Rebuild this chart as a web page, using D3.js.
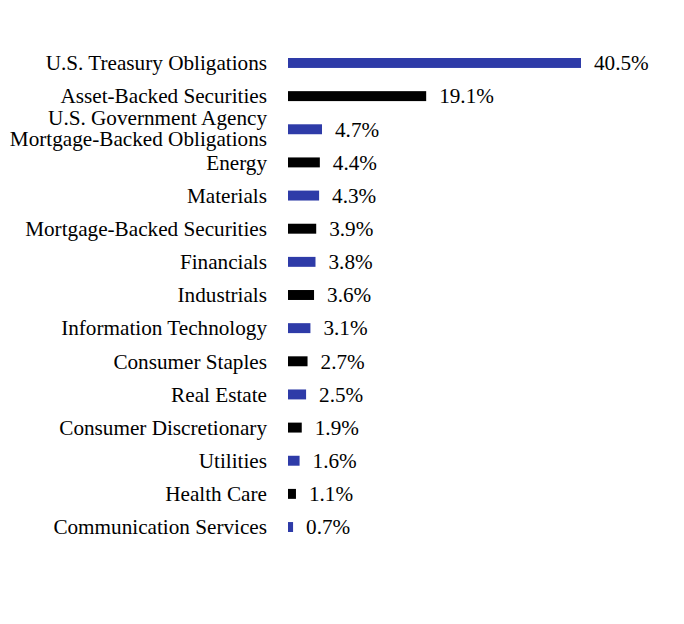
<!DOCTYPE html>
<html>
<head>
<meta charset="utf-8">
<script src="https://cdn.jsdelivr.net/npm/d3@7"></script>
<style>
  body { margin: 0; background: #fff; }
  text { font-family: "Liberation Serif", "Times New Roman", serif; }
</style>
</head>
<body>
<svg id="chart"></svg>
<script>
const categories = [
  "U.S. Treasury Obligations",
  "Asset-Backed Securities",
  "U.S. Government Agency\nMortgage-Backed Obligations",
  "Energy",
  "Materials",
  "Mortgage-Backed Securities",
  "Financials",
  "Industrials",
  "Information Technology",
  "Consumer Staples",
  "Real Estate",
  "Consumer Discretionary",
  "Utilities",
  "Health Care",
  "Communication Services"
]
const values = [40.5, 19.1, 4.7, 4.4, 4.3, 3.9, 3.8, 3.6, 3.1, 2.7, 2.5, 1.9, 1.6, 1.1, 0.7]
const colors = ["#2e3ba8", "#000000"]

const width = 684
const height = 624
const x0 = 288
const fontSize = 21.2

const svg = d3.select("#chart")
  .attr("width", width)
  .attr("height", height)

const x = d3.scaleLinear()
  .domain([0, 40.5])
  .range([x0, 581])

const y = d3.scaleBand()
  .domain(categories)
  .range([46.4, 543.6])
  .paddingInner(0.7)
  .paddingOuter(0.35)

const data = categories.map((c, i) => ({ name: c, value: values[i], i }))

const row = svg.selectAll("g.row")
  .data(data)
  .join("g")
    .attr("class", "row")

row.append("rect")
  .attr("x", x(0))
  .attr("y", d => y(d.name))
  .attr("width", d => x(d.value) - x(0))
  .attr("height", y.bandwidth())
  .attr("fill", d => colors[d.i % 2])

// value labels
row.append("text")
  .attr("x", d => x(d.value) + 13)
  .attr("y", d => y(d.name) + y.bandwidth() / 2 + 7.3)
  .attr("font-size", fontSize)
  .attr("fill", "#000")
  .text(d => d.value.toFixed(1) + "%")

// category labels, may be two lines
const lab = row.append("text")
  .attr("x", 267)
  .attr("text-anchor", "end")
  .attr("font-size", fontSize)
  .attr("fill", "#000")

lab.each(function (d) {
  const lines = d.name.split("\n")
  const cy = y(d.name) + y.bandwidth() / 2
  const lh = 21
  const shift = lines.length > 1 ? -1.5 : 0
  d3.select(this).selectAll("tspan")
    .data(lines)
    .join("tspan")
      .attr("x", 267)
      .attr("y", (l, k) => cy + 7.3 + shift + (k - (lines.length - 1) / 2) * lh)
      .text(l => l)
})
</script>
</body>
</html>
